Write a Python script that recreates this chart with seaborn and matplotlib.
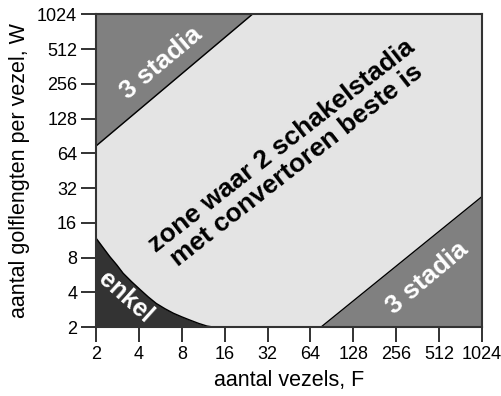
import numpy as np
import pandas as pd
import matplotlib
matplotlib.use("Agg")
import matplotlib.pyplot as plt
import seaborn as sns

# Axis ticks (powers of two on both axes)
tick_values = [2, 4, 8, 16, 32, 64, 128, 256, 512, 1024]
tick_labels = ["2", "4", "8", "16", "32", "64", "128", "256", "512", "1024"]

# Upper-left boundary: above it three switching stages are needed
upper_F = [2, 25]
upper_W = [74, 1024]

# Lower-right boundary: below it three switching stages are needed
lower_F = [76, 1024]
lower_W = [2, 27]

# Boundary of the single-stage ("enkel") region
enkel_F = [2.0, 2.25, 2.5, 2.8, 3.1, 3.55, 4.1, 4.65, 5.3, 6.1, 7.0, 8.0, 9.1, 10.5, 12.0, 13.3]
enkel_W = [11.8, 9.7, 8.15, 6.9, 5.85, 4.95, 4.2, 3.65, 3.2, 2.88, 2.63, 2.45, 2.3, 2.15, 2.04, 2.0]

sns.set_theme(style="white")
plt.rcParams["font.family"] = ["Liberation Sans", "DejaVu Sans"]

fig = plt.figure(figsize=(5.02, 3.96), dpi=100)
ax = fig.add_axes([0.1912, 0.1742, 0.7690, 0.7897])

light = "#e4e4e4"
mid = "#808080"
dark = "#333333"

ax.set_facecolor(light)
ax.set_xscale("log", base=2)
ax.set_yscale("log", base=2)
ax.set_xlim(2, 1024)
ax.set_ylim(2, 1024)

# Filled regions
ax.fill_between(upper_F + [1024], upper_W + [1024], 1024, color=mid, lw=0, zorder=1)
ax.fill_between(lower_F, 2, lower_W, color=mid, lw=0, zorder=1)
ax.fill_between(enkel_F, 2, enkel_W, color=dark, lw=0, zorder=1)

# Boundary lines
bounds = pd.concat([
    pd.DataFrame({"F": upper_F, "W": upper_W, "grens": "boven"}),
    pd.DataFrame({"F": lower_F, "W": lower_W, "grens": "onder"}),
    pd.DataFrame({"F": enkel_F, "W": enkel_W, "grens": "enkel"}),
])
sns.lineplot(data=bounds, x="F", y="W", units="grens", estimator=None,
             color="black", lw=1.0, sort=False, ax=ax, zorder=2)

ax.set_xticks(tick_values)
ax.set_xticklabels(tick_labels)
ax.set_yticks(tick_values)
ax.set_yticklabels(tick_labels)
ax.minorticks_off()
ax.tick_params(axis="both", which="major", direction="out", length=10.5,
               width=1.3, color="#222222", labelsize=13, pad=3,
               bottom=True, left=True, labelcolor="black")
for sp in ax.spines.values():
    sp.set_color("#333333")
    sp.set_linewidth(1.5)
    sp.set_zorder(5)

ax.set_xlabel("aantal vezels, F", fontsize=15.5, labelpad=5, color="black")
ax.set_ylabel("aantal golflengten per vezel, W", fontsize=15.5, labelpad=5, color="black")

# Region labels
ax.text(0.169, 0.843, "3 stadia", transform=ax.transAxes, rotation=40,
        ha="center", va="center", color="white", fontsize=19, fontweight="bold")
ax.text(0.858, 0.157, "3 stadia", transform=ax.transAxes, rotation=40,
        ha="center", va="center", color="white", fontsize=19, fontweight="bold")
ax.text(0.50, 0.548, "zone waar 2 schakelstadia\nmet convertoren beste is",
        transform=ax.transAxes, rotation=38, ha="center", va="center",
        color="black", fontsize=19, fontweight="bold", linespacing=1.0)
ax.text(0.076, 0.096, "enkel", transform=ax.transAxes, rotation=-42,
        ha="center", va="center", color="white", fontsize=18, fontweight="bold")

fig.savefig("out.png", dpi=100)
